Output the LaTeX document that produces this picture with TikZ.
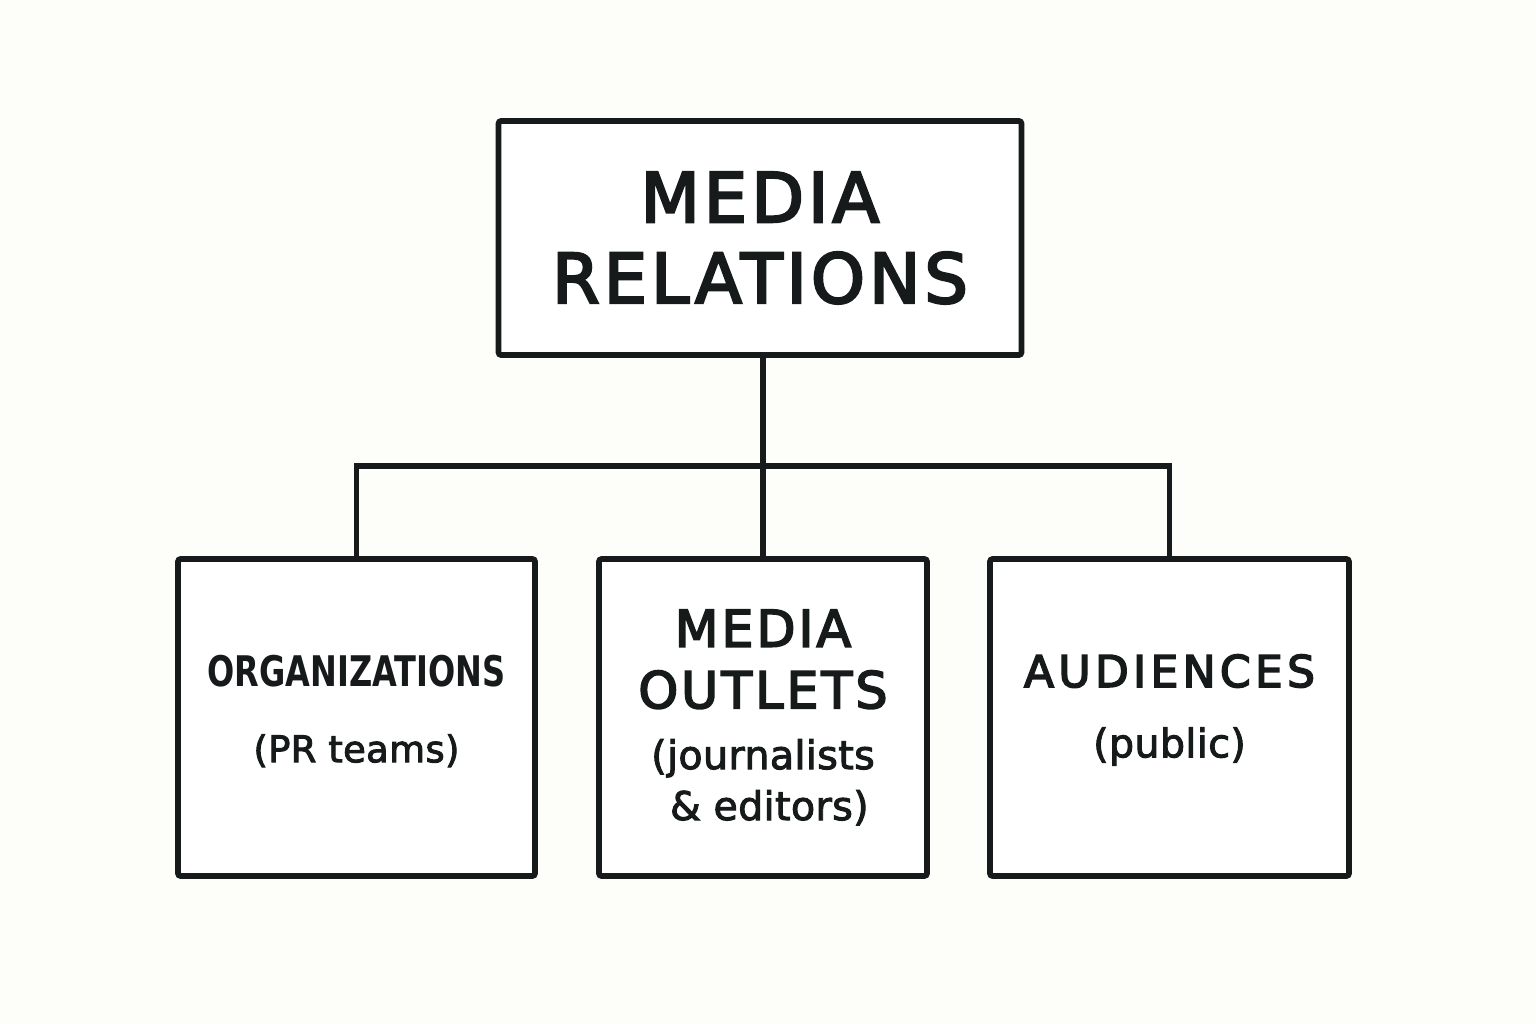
\documentclass[tikz,border=0pt]{standalone}
\usepackage{fontspec,graphicx}
\setmainfont{DejaVu Sans}
\newfontfamily\capsfont{DejaVu Sans}[LetterSpace=6, FakeBold=3.5]
\newfontfamily\wordfont{DejaVu Sans}[LetterSpace=1, FakeBold=2.5]
\newcommand{\gap}{\hspace{0.32em}}
\definecolor{ink}{HTML}{161A1A}
\definecolor{paper}{HTML}{FDFDFA}

\begin{document}
\begin{tikzpicture}[x=0.02cm, y=-0.02cm,
    box/.style={draw=ink, line width=3.3pt, rounded corners=1.5pt, fill=white,
      align=center, text=ink, inner sep=0pt, text width=#1},
    link/.style={draw=ink, line width=3pt}]
  \fill[paper] (0,0) rectangle (1536,1024);

  \node[box=10cm, minimum width=10.46cm, minimum height=4.68cm] (media) at (760,238)
        {\capsfont\fontsize{39}{46}\selectfont MEDIA\\RELATIONS\par};

  \node[box=6.8cm, minimum width=7.14cm, minimum height=6.34cm] (org) at (356.5,717.5)
        {{\fontsize{24}{30}\selectfont\bfseries\scalebox{0.76}[1]{ORGANIZATIONS}\par}
         {\wordfont\fontsize{21}{43}\selectfont (PR\gap teams)\par}\vspace{0.25cm}};
  \node[box=6.2cm, minimum width=6.56cm, minimum height=6.34cm] (outlets) at (763,717.5)
        {{\capsfont\fontsize{28.8}{35}\selectfont MEDIA\\OUTLETS\par}
         {\wordfont\fontsize{22.5}{29}\selectfont\vspace{0.2cm}(journalists\\\gap\&\gap editors)\par}};
  \node[box=6.8cm, minimum width=7.18cm, minimum height=6.34cm] (aud) at (1169.5,717.5)
        {{\capsfont\addfontfeature{LetterSpace=10}\fontsize{25}{30}\selectfont AUDIENCES\par}
         {\wordfont\fontsize{22.5}{40}\selectfont (public)\par}\vspace{0.3cm}};

  \coordinate (bar) at (762,466);
  \draw[link] (outlets.north |- media.south) -- (outlets.north);
  \draw[link] (org.north) |- (bar) -| (aud.north);
\end{tikzpicture}
\end{document}
